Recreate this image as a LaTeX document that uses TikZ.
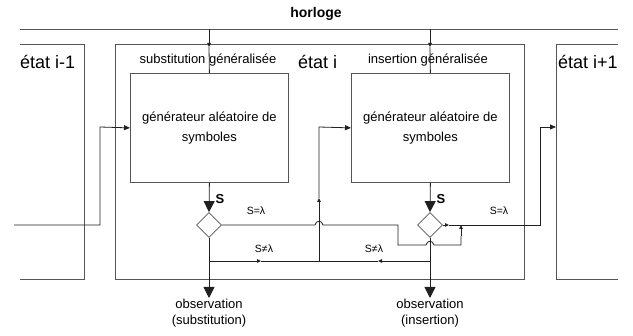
\documentclass[tikz,border=0pt]{standalone}
\usepackage{fontspec}
\setmainfont{Liberation Sans}
\usetikzlibrary{arrows.meta,shapes.geometric}
\definecolor{boxc}{HTML}{555555}
\definecolor{wirec}{HTML}{202020}
\begin{document}
\begin{tikzpicture}[x=1pt,y=-1pt,
  box/.style={draw=boxc, line width=0.8pt},
  wire/.style={draw=wirec, line width=0.8pt},
  bigarr/.style={wire,-{Triangle[length=11pt,width=11pt]}},
  endarr/.style={wire,-{Triangle[length=6pt,width=5pt]}},
  midarr/.style={wire,-{Triangle[length=4pt,width=3.5pt]}},
  genbox/.style={box, minimum width=158pt, minimum height=109pt, anchor=north west,
     align=center, inner sep=0pt, font=\fontsize{13}{20}\selectfont},
  dec/.style={diamond, draw=boxc, line width=0.8pt, minimum width=25pt, minimum height=25pt, inner sep=0pt},
  small/.style={font=\fontsize{13}{15}\selectfont, inner sep=0pt},
  tiny/.style={font=\fontsize{10.5}{12}\selectfont, inner sep=0pt},
  big/.style={font=\fontsize{18}{22}\selectfont, inner sep=0pt, anchor=west},
  obs/.style={font=\fontsize{13}{16}\selectfont, align=center, inner sep=0pt, anchor=north}
]
\useasboundingbox (0,0) rectangle (633,336);

% clock
\node[font=\fontsize{14}{16}\selectfont\bfseries, inner sep=0pt] (horloge) at (316,14) {horloge};
\coordinate (cl) at (20,29);
\coordinate (cr) at (618,29);
\draw[box] (cl) -- (cr);

% state boxes
\draw[box] (20,44) -- (84,44) -- (84,279) -- (20,279);
\node[box, minimum width=409pt, minimum height=235pt, anchor=north west, inner sep=0pt] (etat) at (115,44) {};
\draw[box] (618,44) -- (556,44) -- (556,279) -- (618,279);
\node[big] (l1) at (20,62) {état i-1};
\node[big] (l2) at (298,62) {état i};
\node[big] (l3) at (558,62) {état i+1};

\node[small] (sg) at (208,60) {substitution généralisée};
\node[small] (ig) at (428,60) {insertion généralisée};

% generators
\node[genbox] (gen1) at (130,73) {générateur aléatoire de\\symboles};
\node[genbox] (gen2) at (351,73) {générateur aléatoire de\\symboles};

% clock taps
\coordinate (c1) at (209,29);
\coordinate (c2) at (430,29);
\coordinate (c1a) at (209,47);
\coordinate (c2a) at (430,47);
\draw[midarr] (c1) -- (c1a);
\draw[wire] (c1a) -- (gen1.north);
\draw[midarr] (c2) -- (c2a);
\draw[wire] (c2a) -- (gen2.north);

% diamonds
\node[dec] (d1) at (209,225) {};
\node[dec] (d2) at (430,225) {};
\draw[bigarr] (gen1.south) -- (d1.north);
\draw[bigarr] (gen2.south) -- (d2.north);
\node[font=\fontsize{13}{15}\selectfont\bfseries, inner sep=0pt] (s1) at (220,199) {S};
\node[font=\fontsize{13}{15}\selectfont\bfseries, inner sep=0pt] (s2) at (441,199) {S};

% observations
\coordinate (o1) at (209,298);
\coordinate (o2) at (430,298);
\draw[bigarr] (d1.south) -- (o1);
\draw[bigarr] (d2.south) -- (o2);
\node[obs] (ob1) at (209,299) {observation\\(substitution)};
\node[obs] (ob2) at (430,299) {observation\\(insertion)};

% input from state i-1
\coordinate (in0) at (14,225);
\coordinate (in1) at (100,225);
\coordinate (in2) at (100,127);
\draw[endarr] (in0) -- (in1) -- (in2) -- (gen1.west);

% S=lambda from substitution, bypassing insertion
\coordinate (p1) at (315,225);
\coordinate (p2) at (323,225);
\coordinate (p3) at (398,225);
\coordinate (p4) at (398,245);
\coordinate (p5) at (426,245);
\coordinate (p6) at (434,245);
\coordinate (p7) at (461,245);
\coordinate (p8) at (461,236);
\coordinate (p9) at (461,225);
\draw[wire] (d1.east) -- (p1) .. controls (316,220) and (322,220) .. (p2) -- (p3) -- (p4) -- (p5)
   .. controls (427,240) and (433,240) .. (p6) -- (p7) -- (p8);
\draw[midarr] (p8) -- (p9);

% S=lambda from insertion to state i+1
\coordinate (q1) at (449,225);
\coordinate (q2) at (540,225);
\coordinate (q3) at (540,127);
\coordinate (q4) at (556,127);
\draw[midarr] (d2.east) -- (q1);
\draw[endarr] (q1) -- (q2) -- (q3) -- (q4);

% S != lambda loop to insertion generator
\coordinate (j1) at (209,261);
\coordinate (j2) at (430,261);
\coordinate (m1) at (261,261);
\coordinate (m2) at (378,261);
\coordinate (jm) at (319,261);
\coordinate (u1) at (319,198);
\coordinate (u2) at (319,127);
\draw[midarr] (j1) -- (m1);
\draw[wire] (m1) -- (jm);
\draw[midarr] (j2) -- (m2);
\draw[wire] (m2) -- (jm);
\draw[midarr] (jm) -- (u1);
\draw[endarr] (u1) -- (u2) -- (gen2.west);

% labels
\node[tiny] (e1) at (256,211) {S=λ};
\node[tiny] (e2) at (499,211) {S=λ};
\node[tiny] (n1) at (264,249) {S≠λ};
\node[tiny] (n2) at (374,249) {S≠λ};
\end{tikzpicture}
\end{document}
